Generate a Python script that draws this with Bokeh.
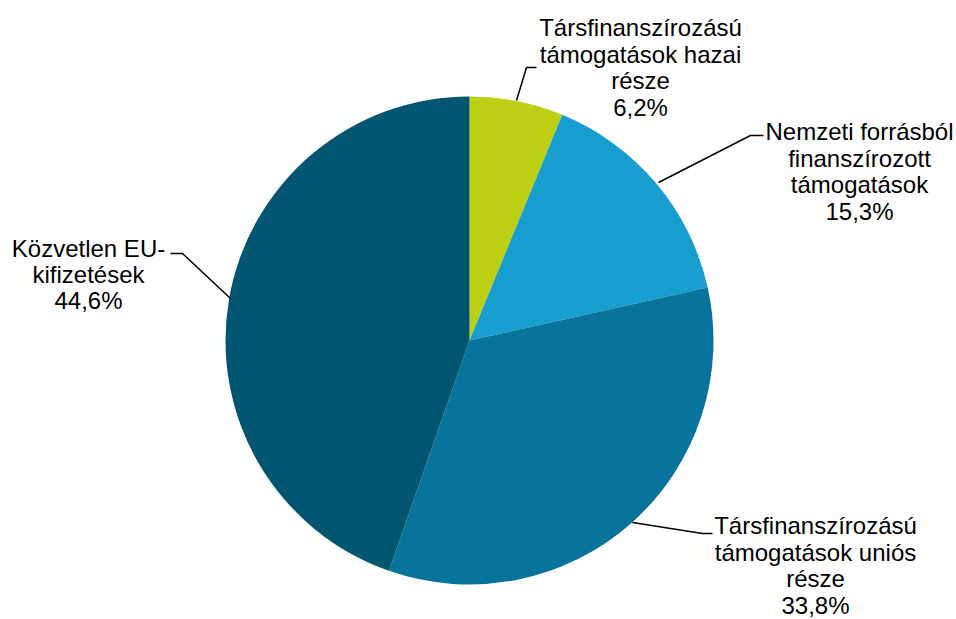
import numpy as np
from bokeh.plotting import figure
from bokeh.models import Range1d, ColumnDataSource
from bokeh.core.properties import value
from bokeh.embed import file_html
from bokeh.resources import INLINE

# data
categories = ["Társfinanszírozású\ntámogatások hazai\nrésze",
              "Nemzeti forrásból\nfinanszírozott\ntámogatások",
              "Társfinanszírozású\ntámogatások uniós\nrésze",
              "Közvetlen EU-\nkifizetések"]
shares = [6.2, 15.3, 33.8, 44.6]
share_labels = ["6,2%", "15,3%", "33,8%", "44,6%"]
colors = ["#BCCF12", "#179ECF", "#08739B", "#005671"]

W, H = 956, 619
p = figure(width=W, height=H, output_backend="svg", toolbar_location=None,
           x_range=Range1d(0, W), y_range=Range1d(0, H), min_border=0,
           outline_line_color=None)
p.axis.visible = False
p.grid.visible = False
p.background_fill_color = "white"
p.border_fill_color = "white"

cx, cy, r = 469, H - 340, 244
vals = np.array(shares)
frac = np.cumsum(np.concatenate([[0], vals])) / vals.sum()
start = np.pi / 2 - 2 * np.pi * frac[1:]
end = np.pi / 2 - 2 * np.pi * frac[:-1]
src = ColumnDataSource(dict(start=start, end=end, color=colors))
p.wedge(x=cx, y=cy, radius=r, radius_units="screen", start_angle="start", end_angle="end",
        fill_color="color", line_color="white", line_width=0, source=src)

# leader lines (image px -> plot coords)
def pt(x, y):
    return x, H - y

leaders = [
    [(516, 100), (526, 67), (536, 67)],
    [(658, 182), (750, 135), (763, 135)],
    [(632, 522), (702, 533), (712, 533)],
    [(230, 298), (182, 253), (170, 253)],
]
xs = [[pt(*q)[0] for q in L] for L in leaders]
ys = [[pt(*q)[1] for q in L] for L in leaders]
p.multi_line(xs=xs, ys=ys, line_color="black", line_width=1.5)

label_pos = [(640, 67), (859, 171), (815, 565), (88, 274)]
lx = [pt(*q)[0] for q in label_pos]
ly = [pt(*q)[1] for q in label_pos]
texts = [c + "\n" + s for c, s in zip(categories, share_labels)]
p.text(x=lx, y=ly, text=texts, text_align="center", text_baseline="middle",
       text_font=value("Liberation Sans"), text_font_size="24px", text_color="#000000",
       text_line_height=0.98)

open("out.html", "w").write(file_html(p, INLINE))
